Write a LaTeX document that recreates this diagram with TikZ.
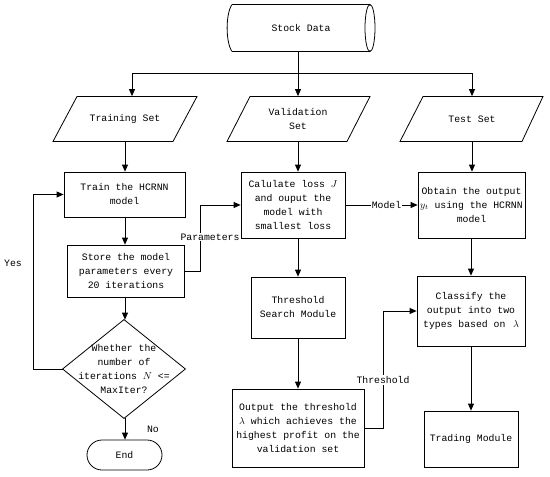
\documentclass[tikz,border=0pt]{standalone}
\usepackage{fontspec}
\setmainfont{Liberation Mono}
\usetikzlibrary{arrows.meta}
\begin{document}
\begin{tikzpicture}[x=1pt,y=-1pt,line width=0.8pt,
  every node/.style={font=\fontsize{9.8}{14}\selectfont, align=center, inner sep=0pt},
  arr/.style={-{Triangle[length=7pt,width=6pt]}},
  boxn/.style={draw, rectangle},
  ghost/.style={rectangle},
  lbl/.style={fill=white, inner sep=1pt}]
\useasboundingbox (0,0) rectangle (550,477);
% Stock data cylinder
\node[ghost, minimum width=143, minimum height=47] (stock) at (301,28) {Stock Data};
\draw (232,4.5) -- (370,4.5);
\draw (232,51.5) -- (370,51.5);
\draw (370,28) ellipse [x radius=5, y radius=23.5];
\draw (232,4.5) .. controls (225.5,14) and (225.5,42) .. (232,51.5);
% parallelograms
\node[ghost, minimum width=120, minimum height=45] (trs) at (125,119) {Training Set};
\draw (77,96.5) -- (197,96.5) -- (173,141.5) -- (53,141.5) -- cycle;
\node[ghost, minimum width=120, minimum height=45] (vs) at (298,119) {Validation\\Set};
\draw (250,96.5) -- (370,96.5) -- (347,141.5) -- (227,141.5) -- cycle;
\node[ghost, minimum width=120, minimum height=45] (tes) at (472,119) {Test Set};
\draw (423,96.5) -- (543,96.5) -- (522,141.5) -- (400,141.5) -- cycle;
% boxes
\node[boxn, minimum width=121, minimum height=45] (train) at (124.5,194.5) {Train the HCRNN\\model};
\node[boxn, minimum width=117, minimum height=52] (store) at (126,271) {Store the model\\parameters every\\20 iterations};
\node[ghost, minimum width=122, minimum height=98] (dec) at (124,369) {Whether the\\number of\\iterations $N$ <=\\MaxIter?};
\draw (dec.north) -- (dec.east) -- (dec.south) -- (dec.west) -- cycle;
\node[draw, rounded corners=15pt, minimum width=75, minimum height=30] (end) at (124.5,455) {End};
\node[boxn, minimum width=104, minimum height=66] (calc) at (293,205) {Calulate loss $J$\\and ouput the\\model with\\smallest loss};
\node[boxn, minimum width=94, minimum height=61] (ths) at (298,307.5) {Threshold\\Search Module};
\node[boxn, minimum width=132, minimum height=78] (out) at (298,428) {Output the threshold\\$\lambda$ which achieves the\\highest profit on the\\validation set};
\node[boxn, minimum width=107, minimum height=66] (obt) at (471.5,205) {Obtain the output\\$y_t$ using the HCRNN\\model};
\node[boxn, minimum width=108, minimum height=70] (cls) at (471,311) {Classify the\\output into two\\types based on \,$\lambda$};
\node[boxn, minimum width=94, minimum height=56] (trd) at (471,439) {Trading Module};
% top distribution
\coordinate (jc) at (298,73);
\coordinate (jl) at (132,73);
\coordinate (jr) at (472,73);
\draw (stock.south -| jc) -- (jc);
\draw (jl) -- (jr);
\draw[arr] (jl) -- (jl |- trs.north);
\draw[arr] (jc) -- (vs.north);
\draw[arr] (jr) -- (tes.north);
% left column
\draw[arr] (trs.south) -- (train.north -| trs.south);
\draw[arr] (train.south -| trs.south) -- (store.north -| trs.south);
\draw[arr] (store.south -| trs.south) -- (dec.north -| trs.south);
\draw[arr] (dec.south -| trs.south) -- (end.north -| trs.south);
\node at (153,429) {No};
\draw[arr] (dec.west) -- (33,369) |- (train.west);
\node at (13,263) {Yes};
\draw[arr] (store.east) -- (200,271) |- (calc.west);
\node[lbl] at (210,237) {Parameters};
% middle column
\draw[arr] (vs.south) -- (calc.north -| vs.south);
\draw[arr] (calc.south -| vs.south) -- (ths.north);
\draw[arr] (ths.south) -- (out.north);
\draw[arr] (calc.east) -- (obt.west) node[lbl, pos=0.57] {Model};
\draw[arr] (out.east) -- (383,428) |- (cls.west);
\node[lbl] at (383,380) {Threshold};
% right column
\draw[arr] (tes.south) -- (obt.north -| tes.south);
\draw[arr] (obt.south -| cls.north) -- (cls.north);
\draw[arr] (cls.south) -- (trd.north);
\end{tikzpicture}
\end{document}
